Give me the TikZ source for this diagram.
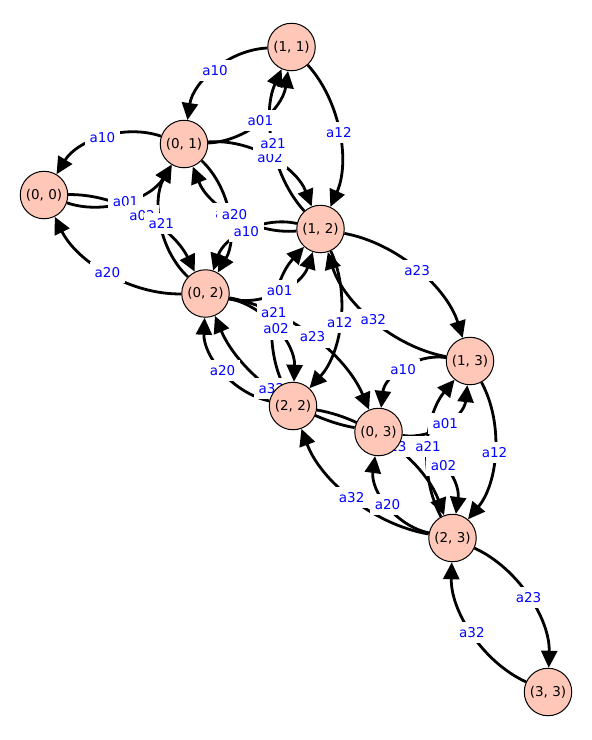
\documentclass[tikz,border=0pt]{standalone}
\usepackage{fontspec}
\setmainfont{DejaVu Sans}
\usetikzlibrary{calc,arrows.meta}
\definecolor{vfill}{HTML}{FEC7B8}
\definecolor{lblue}{HTML}{0000FF}
\pgfdeclarelayer{edgelayer}
\pgfdeclarelayer{labellayer}
\pgfsetlayers{edgelayer,labellayer,main}
\tikzset{
  vertex/.style={circle,draw=black,line width=1pt,fill=vfill,minimum size=47.5pt,inner sep=0pt,font=\fontsize{13.5}{16}\selectfont},
  edge/.style={line width=2.8pt,-{Triangle[length=17pt,width=16pt]}},
  lbl/.style={fill=white,text=lblue,inner xsep=4.5pt,inner ysep=5.5pt,font=\fontsize{13.5}{16}\selectfont},
}
\newcommand\mkctrl[3]{%
  \coordinate (cc) at ($(#1)!0.5!(#2)!60pt!#3:(#2)$);
  \coordinate (ca) at ($(#1)!0.6667!(cc)$);
  \coordinate (cb) at ($(#2)!0.6667!(cc)$);
}
\newcommand\gedge[4]{%
  \mkctrl{#1}{#2}{#3}%
  \begin{pgfonlayer}{edgelayer}
  \draw[edge] (#1) .. controls (ca) and (cb) .. (#2);
  \end{pgfonlayer}
  \begin{pgfonlayer}{labellayer}
  \path (#1) .. controls (ca) and (cb) .. node[lbl]{#4} (#2);
  \end{pgfonlayer}
}
\begin{document}
\begin{tikzpicture}[x=1pt,y=-1pt]
\useasboundingbox (0,0) rectangle (592,740);
\node[vertex] (n00) at (44,195) {(0, 0)};
\node[vertex] (n01) at (184,144) {(0, 1)};
\node[vertex] (n11) at (291.5,47) {(1, 1)};
\node[vertex] (n02) at (205.5,293.5) {(0, 2)};
\node[vertex] (n12) at (320.5,229) {(1, 2)};
\node[vertex] (n22) at (293,406) {(2, 2)};
\node[vertex] (n03) at (378.5,432) {(0, 3)};
\node[vertex] (n13) at (470,361) {(1, 3)};
\node[vertex] (n23) at (452.5,538) {(2, 3)};
\node[vertex] (n33) at (548,692) {(3, 3)};
\gedge{n00}{n01}{-90}{a01}
\gedge{n00}{n02}{90}{a02}
\gedge{n01}{n00}{-90}{a10}
\gedge{n01}{n02}{90}{a12}
\gedge{n01}{n11}{-90}{a01}
\gedge{n01}{n12}{90}{a02}
\gedge{n02}{n00}{90}{a20}
\gedge{n02}{n01}{90}{a21}
\gedge{n02}{n03}{90}{a23}
\gedge{n02}{n12}{-90}{a01}
\gedge{n02}{n22}{90}{a02}
\gedge{n03}{n02}{90}{a32}
\gedge{n03}{n13}{-90}{a01}
\gedge{n03}{n23}{90}{a02}
\gedge{n11}{n01}{-90}{a10}
\gedge{n11}{n12}{90}{a12}
\gedge{n12}{n01}{90}{a20}
\gedge{n12}{n02}{-90}{a10}
\gedge{n12}{n11}{90}{a21}
\gedge{n12}{n13}{90}{a23}
\gedge{n12}{n22}{90}{a12}
\gedge{n13}{n03}{-90}{a10}
\gedge{n13}{n12}{90}{a32}
\gedge{n13}{n23}{90}{a12}
\gedge{n22}{n02}{90}{a20}
\gedge{n22}{n12}{90}{a21}
\gedge{n22}{n23}{90}{a23}
\gedge{n23}{n03}{90}{a20}
\gedge{n23}{n13}{90}{a21}
\gedge{n23}{n22}{90}{a32}
\gedge{n23}{n33}{90}{a23}
\gedge{n33}{n23}{90}{a32}
\end{tikzpicture}
\end{document}
